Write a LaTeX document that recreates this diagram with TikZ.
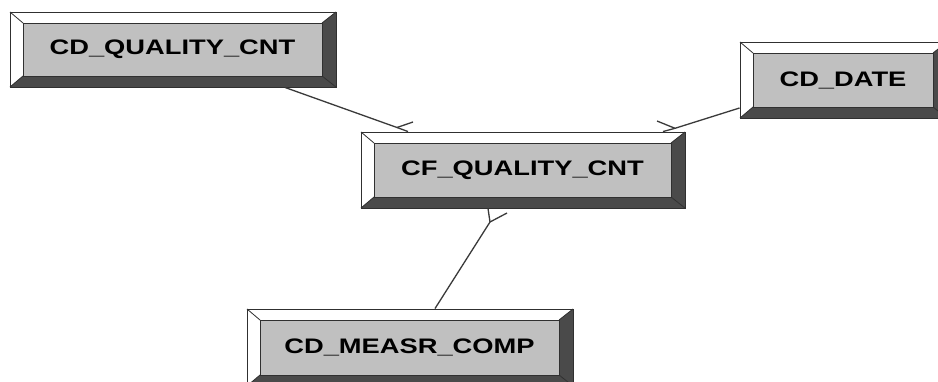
\documentclass[tikz,border=0pt]{standalone}
\usepackage{fontspec}
\setmainfont{Liberation Sans}
\usepackage{graphicx}
\usetikzlibrary{calc,fit}
\definecolor{facegray}{HTML}{C0C0C0}
\definecolor{bevdark}{HTML}{4A4A4A}
\definecolor{edgegray}{HTML}{303030}
\definecolor{conngray}{HTML}{3A3A3A}
\tikzset{
  boxline/.style={draw=edgegray, line width=0.8pt},
  facebox/.style={fill=facegray, draw=edgegray, line width=0.8pt, inner sep=0pt},
  outerbox/.style={draw=edgegray, line width=0.9pt, inner sep=0pt},
  boxtext/.style={text=black, inner sep=0pt, font=\fontsize{21}{21}\selectfont\bfseries},
  conn/.style={draw=conngray, line width=1.3pt},
}
\newcommand\bevbox[6]{%
  \coordinate (#1-a) at (#2,#3);
  \coordinate (#1-b) at (#4,#5);
  \coordinate (#1-c) at ({#2+13},{#3+11});
  \coordinate (#1-d) at ({#4-14},{#5-11});
  \fill[white] (#1-a) -- (#1-a -| #1-b) -- (#1-c -| #1-d) -- (#1-c) -- cycle;
  \fill[white] (#1-a) -- (#1-c) -- (#1-c |- #1-d) -- (#1-a |- #1-b) -- cycle;
  \fill[bevdark] (#1-a -| #1-b) -- (#1-b) -- (#1-d) -- (#1-c -| #1-d) -- cycle;
  \fill[bevdark] (#1-a |- #1-b) -- (#1-b) -- (#1-d) -- (#1-c |- #1-d) -- cycle;
  \draw[boxline] (#1-a) -- (#1-c) (#1-a -| #1-b) -- (#1-c -| #1-d)
                 (#1-b) -- (#1-d) (#1-a |- #1-b) -- (#1-c |- #1-d);
  \node[facebox, fit=(#1-c)(#1-d)] (#1-face) {};
  \node[boxtext] (#1-text) at (#1-face.center) {\scalebox{1.3}[1]{#6}};
  \node[outerbox, fit=(#1-a)(#1-b)] (#1) {};
}
\begin{document}
\begin{tikzpicture}[x=1pt,y=-1pt]
\useasboundingbox (0,0) rectangle (938,381);
\fill[white] (0,0) rectangle (938,381);
\clip (0,0) rectangle (938,381);

\bevbox{q1}{10}{12}{336}{87}{CD\_QUALITY\_CNT}
\bevbox{cf}{361}{132}{685}{208}{CF\_QUALITY\_CNT}
\bevbox{dt}{740}{42}{947}{118}{CD\_DATE}
\bevbox{ms}{247}{309}{573}{386}{CD\_MEASR\_COMP}

% CD_QUALITY_CNT -> CF_QUALITY_CNT
\coordinate (j1) at (397,127.5);
\draw[conn] ($(q1.south)+(112,0)$) -- (j1) -- ($(cf.north)+(-115,0)$);
\draw[conn] (j1) -- (413,122);

% CD_DATE -> CF_QUALITY_CNT
\coordinate (j2) at (675,128.3);
\draw[conn] ($(dt.west)+(0,28)$) -- (j2) -- ($(cf.north)+(140,0)$);
\draw[conn] (j2) -- (657,121);

% CD_MEASR_COMP -> CF_QUALITY_CNT
\coordinate (j3) at (490,222);
\draw[conn] ($(ms.north)+(25,0)$) -- (j3) -- ($(cf.south)+(-35,0)$);
\draw[conn] (j3) -- (507,213);
\end{tikzpicture}
\end{document}
